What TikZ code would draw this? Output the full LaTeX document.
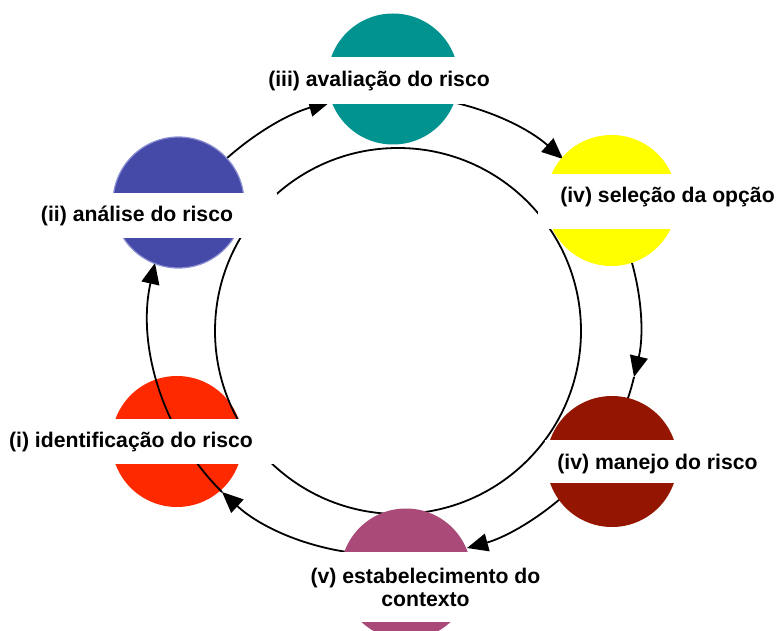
\documentclass[tikz,border=0pt]{standalone}
\usepackage{fontspec}
\setmainfont{Liberation Sans}
\usetikzlibrary{arrows.meta}

\definecolor{identcol}{RGB}{255,41,0}
\definecolor{analcol}{RGB}{69,73,167}
\definecolor{analedge}{RGB}{140,144,210}
\definecolor{avalcol}{RGB}{0,147,144}
\definecolor{seleccol}{RGB}{255,255,0}
\definecolor{manejocol}{RGB}{148,22,0}
\definecolor{contextocol}{RGB}{169,74,120}

\begin{document}
\begin{tikzpicture}[x=1pt, y=1pt,
  disc/.style = {circle, minimum size=131pt, inner sep=0pt},
  band/.style = {fill=white, inner ysep=0pt, anchor=base, font=\bfseries\fontsize{21.2}{23}\selectfont},
  flow/.style = {line width=1.8pt, -{Triangle[length=21pt, width=18pt]}, looseness=0.9}]
\useasboundingbox (0,0) rectangle (776,630);
% red disc first, the lines run over it
\node[disc, fill=identcol] (ident) at (177,188.5) {};
% inner ring
\draw[line width=1.8pt] (398,299) circle (183);
% end points of the outer arcs
\coordinate (analise-out) at (226,471);
\coordinate (aval-in) at (330,528);
\coordinate (aval-out) at (452,528);
\coordinate (selec-in) at (563,471);
\coordinate (selec-out) at (632,367);
\coordinate (manejo-tip) at (634,253);
\coordinate (manejo-in) at (628,232);
\coordinate (manejo-out) at (560,131);
\coordinate (contexto-in) at (467,82);
\coordinate (contexto-out) at (347,78);
\coordinate (ident-tip) at (222,138);
\coordinate (analise-in) at (155,367);
\draw[flow] (analise-out) to[bend left=13] (aval-in);
\draw[flow] (aval-out) to[bend left=14.5] (selec-in);
\draw[flow] (selec-out) to[bend left=14.5] (manejo-tip);
\draw[line width=1.8pt] (manejo-tip) to[bend left=2.5] (manejo-in);
\draw[flow] (manejo-out) to[bend left=12.5] (contexto-in);
\draw[flow] (contexto-out) to[bend left=17] (ident-tip);
\draw[flow] (ident-tip) to[bend left=29] (analise-in);
% the other discs
\node[disc, fill=analcol, draw=analedge, line width=1.2pt] (analise) at (178.5,427.5) {};
\node[disc, fill=avalcol] (aval) at (393,551) {};
\node[disc, fill=seleccol] (selec) at (611.5,429.5) {};
\node[disc, fill=manejocol] (manejo) at (612,168.5) {};
\node[disc, fill=contextocol] (contexto) at (406,56) {};
% labels on white bands
\node[band, inner xsep=10pt, text height=30pt, text depth=17pt] (aval-txt) at (379,543) {(iii) avaliação do risco};
\node[band, inner xsep=44pt, text height=29pt, text depth=16pt] (analise-txt) at (137,408) {(ii) análise do risco};
\node[band, inner xsep=22pt, text height=29pt, text depth=26pt] (selec-txt) at (667.5,427) {(iv) seleção da opção};
\node[band, inner xsep=21pt, text height=28pt, text depth=17pt] (ident-txt) at (131,183) {(i) identificação do risco};
\node[band, inner xsep=12pt, text height=29pt, text depth=14pt] (manejo-txt) at (657.5,161) {(iv) manejo do risco};
\node[band, anchor=center, align=center, inner xsep=10pt, minimum height=70pt] (contexto-txt) at (425.5,43) {(v) estabelecimento do\\contexto};
\end{tikzpicture}
\end{document}
